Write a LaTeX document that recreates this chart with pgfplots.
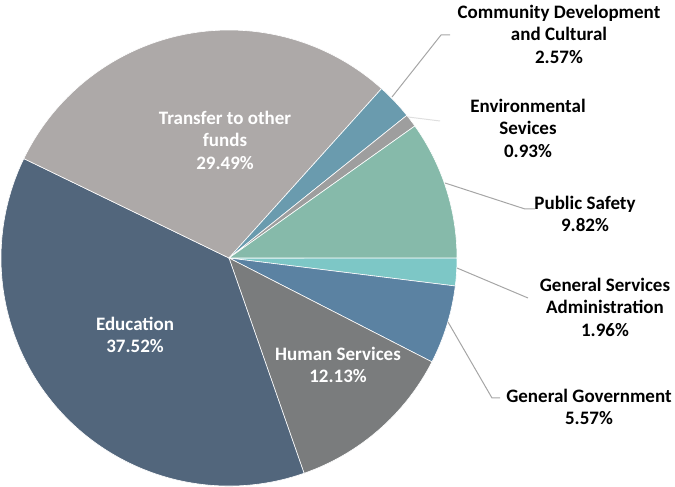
\documentclass[border=0pt]{standalone}
\usepackage{pgfplots}
\pgfplotsset{compat=1.18}
\usepackage{pgfplotstable}
\usepackage{fontspec}
\setmainfont{Carlito}
\definecolor{cGSA}{HTML}{7DC7C6}
\definecolor{cGG}{HTML}{5B82A2}
\definecolor{cHS}{HTML}{7A7C7D}
\definecolor{cEdu}{HTML}{52667C}
\definecolor{cTr}{HTML}{ADA9A8}
\definecolor{cCom}{HTML}{6A9BAE}
\definecolor{cEnv}{HTML}{9E9E9E}
\definecolor{cPS}{HTML}{86BAAA}
\definecolor{lead}{HTML}{A6A6A6}
\pgfplotstableread{
value col
1.96 cGSA
5.57 cGG
12.13 cHS
37.52 cEdu
29.49 cTr
2.57 cCom
0.93 cEnv
9.82 cPS
}\piedata
\begin{document}
\begin{tikzpicture}
\begin{axis}[scale only axis, width=675pt, height=487pt,
  xmin=0, xmax=675, ymin=0, ymax=487, hide axis, clip=false, anchor=south west, at={(0,0)}]
\addplot[draw=none] coordinates {(0,0) (675,487)};
\pgfplotsextra{
  \gdef\cumang{0}
  \foreach \i in {0,...,7}{
    \pgfplotstablegetelem{\i}{value}\of\piedata \let\v\pgfplotsretval
    \pgfplotstablegetelem{\i}{col}\of\piedata \let\c\pgfplotsretval
    \pgfmathsetmacro\a{\cumang}
    \pgfmathsetmacro\b{\cumang - 3.6*\v}
    \fill[fill=\c, draw=white, line width=0.6pt] (axis cs:229,229) -- ++(\a:228pt) arc[start angle=\a, end angle=\b, radius=228pt] -- cycle;
    \xdef\cumang{\b}
  }
  \draw[lead, line width=1pt] (axis cs:392,390)--(axis cs:441,452)--(axis cs:450,452);
  \draw[gray!25, line width=1pt] (axis cs:408,370)--(axis cs:440,366);
  \draw[lead, line width=1pt] (axis cs:445,304)--(axis cs:525,278)--(axis cs:535,278);
  \draw[lead, line width=1pt] (axis cs:457,219)--(axis cs:528,189);
  \draw[lead, line width=1pt] (axis cs:448,165)--(axis cs:492,89)--(axis cs:500,89);
  \begin{scope}[every node/.style={font=\fontsize{19}{22.5}\selectfont\bfseries, align=center, inner sep=0pt}]
  \node at (axis cs:559,453) {Community Development\\and Cultural\\2.57\%};
  \node at (axis cs:528,359) {Environmental\\Sevices\\0.93\%};
  \node at (axis cs:585,273) {Public Safety\\9.82\%};
  \node at (axis cs:605,180) {General Services\\Administration\\1.96\%};
  \node at (axis cs:589,80) {General Government\\5.57\%};
  \node[text=white] at (axis cs:225,347) {Transfer to other\\funds\\29.49\%};
  \node[text=white] at (axis cs:135,152) {Education\\37.52\%};
  \node[text=white] at (axis cs:338,122) {Human Services\\12.13\%};
  \end{scope}
}
\end{axis}
\pgfresetboundingbox
\path (0,0) rectangle (675pt,487pt);
\end{tikzpicture}
\end{document}
